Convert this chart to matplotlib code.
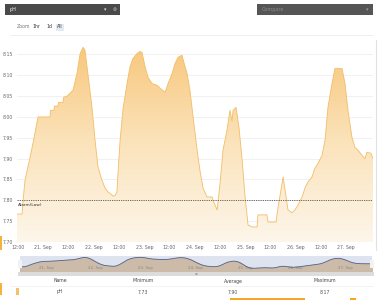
import numpy as np
import matplotlib
matplotlib.use("Agg")
import matplotlib.pyplot as plt
from matplotlib.patches import Rectangle, Polygon

# hours after 20 Sep 12:00 and the pH reading
hours = [-0.5, 1.9, 2.4, 3.3, 5.7, 7.1, 9.5, 15.2, 15.4, 17.1, 17.3, 19.0, 19.2,
         21.4, 21.6, 23.3, 26.1, 28.0, 29.5, 30.9, 31.8, 33.3, 35.2, 36.6, 38.0,
         39.9, 41.3, 42.8, 44.2, 45.1, 46.1, 47.0, 47.5, 48.5, 49.9, 51.8, 53.2,
         54.6, 56.5, 58.0, 58.9, 60.4, 61.8, 63.7, 66.1, 67.5, 69.9, 71.3, 73.2,
         74.6, 76.0, 77.9, 79.4, 80.3, 81.7, 83.2, 85.1, 86.5, 87.9, 89.8, 92.2,
         92.7, 94.6, 96.0, 97.4, 99.3, 100.7, 101.7, 102.2, 103.6, 105.0, 106.4,
         107.9, 109.3, 111.2, 113.6, 114.0, 118.3, 118.8, 122.6, 123.6, 126.0,
         127.4, 128.3, 130.2, 131.6, 133.1, 135.0, 136.4, 137.8, 139.7, 141.1,
         142.6, 144.5, 145.9, 147.3, 149.2, 150.6, 154.0, 155.4, 156.8, 158.7,
         160.1, 161.6, 163.5, 164.9, 165.8, 167.7, 168.7]
ph = [7.767, 7.767, 7.80, 7.848, 7.903, 7.937, 8.00, 8.00, 8.016, 8.016, 8.026,
      8.026, 8.035, 8.035, 8.047, 8.05, 8.064, 8.104, 8.152, 8.167, 8.16, 8.10,
      8.02, 7.944, 7.88, 7.848, 7.83, 7.82, 7.815, 7.81, 7.812, 7.82, 7.865,
      7.944, 8.02, 8.08, 8.12, 8.14, 8.152, 8.157, 8.155, 8.12, 8.095, 8.08,
      8.076, 8.069, 8.059, 8.08, 8.104, 8.128, 8.143, 8.148, 8.12, 8.105, 8.064,
      8.00, 7.92, 7.87, 7.83, 7.808, 7.808, 7.80, 7.777, 7.84, 7.92, 7.968,
      8.016, 7.99, 8.016, 8.023, 7.975, 7.903, 7.808, 7.741, 7.736, 7.736,
      7.765, 7.765, 7.748, 7.748, 7.784, 7.856, 7.808, 7.777, 7.77, 7.777,
      7.789, 7.808, 7.83, 7.844, 7.856, 7.877, 7.889, 7.908, 7.944, 8.023,
      8.08, 8.116, 8.116, 8.08, 8.016, 7.951, 7.927, 7.92, 7.908, 7.90, 7.915,
      7.913, 7.90]
alarm_low = 7.80
y_ticks = [7.70, 7.75, 7.80, 7.85, 7.90, 7.95, 8.00, 8.05, 8.10, 8.15]
x_labels = ["12:00", "21. Sep", "12:00", "22. Sep", "12:00", "23. Sep", "12:00",
            "24. Sep", "12:00", "25. Sep", "12:00", "26. Sep", "12:00", "27. Sep"]
nav_labels = ["21. Sep", "22. Sep", "23. Sep", "24. Sep", "25. Sep", "26. Sep", "27. Sep"]
table_head = ["Name", "Minimum", "Average", "Maximum"]
table_row = ["pH", "7.73", "7.90", "8.17"]

W, H = 378, 300
fig = plt.figure(figsize=(W / 100, H / 100), dpi=100)
fig.patch.set_facecolor("white")


def fx(px):
    return px / W


def fy(py):
    return 1 - py / H


def box(x0, y0, x1, y1, color, **kw):
    fig.patches.append(Rectangle((fx(x0), fy(y1)), fx(x1 - x0), (y1 - y0) / H,
                                 transform=fig.transFigure, facecolor=color,
                                 edgecolor="none", **kw))


# top controls
box(5, 4, 120, 15, "#4a4a4a")
fig.text(fx(10), fy(9.5), "pH", color="white", fontsize=3.5, va="center")
fig.text(fx(104), fy(9.5), "\u25be", color="#dddddd", fontsize=3.5, va="center")
fig.text(fx(113), fy(9.5), "\u2297", color="#bbbbbb", fontsize=3.5, va="center")
box(257, 4, 373, 15, "#555555")
fig.text(fx(262), fy(9.5), "Compare", color="#8a8a8a", fontsize=3.5, va="center")
fig.text(fx(366), fy(9.5), "\u25be", color="#999999", fontsize=3.5, va="center")

fig.text(fx(17), fy(27), "Zoom", color="#777777", fontsize=3.3, va="center")
fig.text(fx(32), fy(27), "1hr", color="#333333", fontsize=3.3, va="center")
fig.text(fx(46), fy(27), "1d", color="#333333", fontsize=3.3, va="center")
box(56, 23.5, 64, 30.5, "#e4e9f4")
fig.text(fx(57), fy(27), "All", color="#333333", fontsize=3.3, va="center")
fig.lines.append(plt.Line2D([fx(10), fx(373)], [fy(35), fy(35)],
                            transform=fig.transFigure, color="#ececec", lw=0.6))

# main chart
ax = fig.add_axes([fx(17), fy(242), fx(373 - 17), (242 - 44) / H])
x = np.array(hours)
y = np.array(ph)
ymin, ymax = 7.70, 8.175
ax.set_xlim(x[0], x[-1])
ax.set_ylim(ymin, ymax)

grad = np.linspace(0, 1, 256).reshape(-1, 1)
cmap = matplotlib.colors.LinearSegmentedColormap.from_list(
    "fill", ["#fdf6ea", "#fbe3bb", "#f8c77c"])
img = ax.imshow(grad, extent=[x[0], x[-1], ymin, ymax], origin="lower",
                aspect="auto", cmap=cmap, zorder=1)
poly = Polygon(np.column_stack([np.r_[x[0], x, x[-1]], np.r_[ymin, y, ymin]]),
               closed=True, facecolor="none", edgecolor="none")
ax.add_patch(poly)
img.set_clip_path(poly)
ax.plot(x, y, color="#f3bd66", lw=0.6, zorder=3)

ax.axhline(alarm_low, color="#555555", lw=0.6, ls=(0, (1.5, 1.2)), zorder=4)
ax.text(x[0] + 0.6, alarm_low - 0.006, "Alarm(Low)", fontsize=3.2,
        color="#333333", va="top", zorder=5)

ax.set_yticks(y_ticks)
ax.set_yticklabels([f"{v:.2f}" for v in y_ticks])
ax.set_xticks(np.arange(len(x_labels)) * 12)
ax.set_xticklabels(x_labels)
ax.tick_params(axis="both", length=0, labelsize=3.3, labelcolor="#666666", pad=2)
ax.yaxis.set_tick_params(pad=3)
ax.grid(axis="y", color="#ebebeb", lw=0.5, zorder=0)
ax.set_axisbelow(True)
for s in ax.spines.values():
    s.set_visible(False)

# navigator
nav = fig.add_axes([fx(20), fy(272), fx(372 - 20), 16 / H])
nav.set_facecolor("#dde3ef")
smooth = np.convolve(np.interp(np.linspace(x[0], x[-1], 300), x, y),
                     np.ones(9) / 9, mode="same")
sx = np.linspace(x[0], x[-1], 300)
smooth[:4] = smooth[4]
smooth[-4:] = smooth[-5]
nav.fill_between(sx, 7.60, smooth, color="#cbbba8", zorder=1)
nav.plot(sx, smooth, color="#56608a", lw=0.6, zorder=2)
nav.set_xlim(x[0], x[-1])
nav.set_ylim(7.60, 8.20)
nav.set_xticks(np.arange(1, 8) * 24 - 12)
nav.set_xticklabels(nav_labels)
nav.tick_params(axis="x", direction="in", pad=-4, labelsize=2.8,
                labelcolor="#888888", length=0)
nav.set_yticks([])
for s in nav.spines.values():
    s.set_visible(False)
box(18, 260, 22, 268, "#f2f2f2")
box(370, 260, 374, 268, "#f2f2f2")

# scrollbar
box(18, 272, 374, 276, "#dcdcdc")
fig.text(fx(196), fy(274), "\u2261", fontsize=2.5, color="#777777",
         ha="center", va="center")

# summary table
cols = [60, 143, 233, 325]
for cx, h, r in zip(cols, table_head, table_row):
    fig.text(fx(cx), fy(281), h, fontsize=3.3, color="#444444", ha="center", va="center")
    fig.text(fx(cx), fy(292), r, fontsize=3.3, color="#555555", ha="center", va="center")
fig.lines.append(plt.Line2D([fx(10), fx(373)], [fy(286), fy(286)],
                            transform=fig.transFigure, color="#eeeeee", lw=0.5))
box(16, 288, 18.5, 295, "#f2c16a")

# page edge marks
box(0, 236, 2, 250, "#f3b33d")
box(0, 283, 2, 295, "#f3b33d")
box(230, 298, 305, 300, "#f5a623")
box(350, 298, 356, 300, "#f5a623")
fig.lines.append(plt.Line2D([fx(375.5), fx(375.5)], [fy(40), fy(250)],
                            transform=fig.transFigure, color="#e2e2e2", lw=0.8))

fig.savefig("out.png", dpi=100, facecolor="white")
